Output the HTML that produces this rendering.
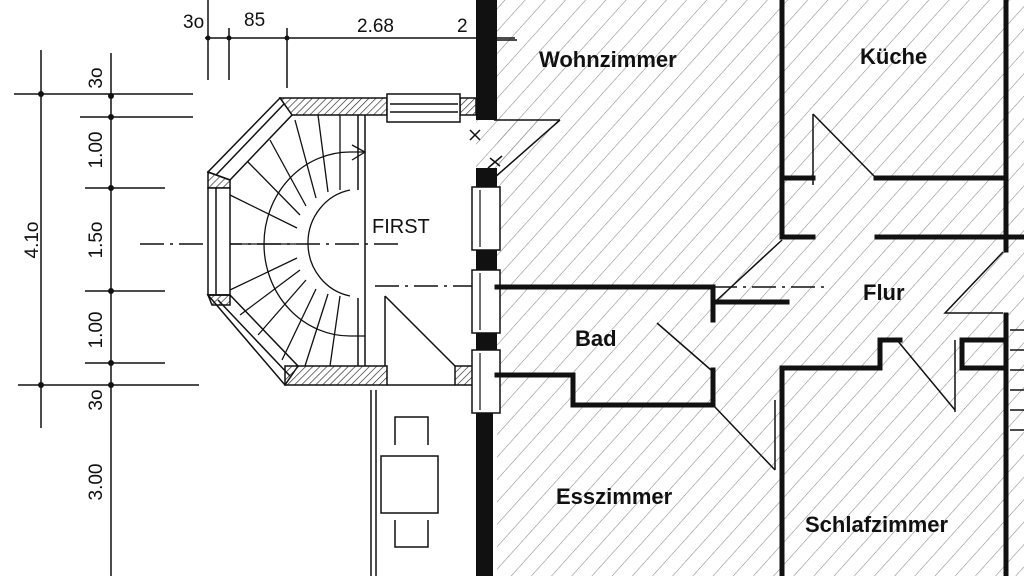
<!DOCTYPE html>
<html><head><meta charset="utf-8"><style>
html,body{margin:0;padding:0;background:#fff;}
svg{display:block;}
.t{font-family:"Liberation Sans",sans-serif;font-weight:bold;font-size:22px;fill:#111;}
.d{font-family:"Liberation Sans",sans-serif;font-size:19px;fill:#111;}
</style></head><body>
<svg width="1024" height="576" viewBox="0 0 1024 576" xmlns="http://www.w3.org/2000/svg">
<defs>
<pattern id="h" width="15" height="15" patternUnits="userSpaceOnUse" patternTransform="rotate(42)">
<line x1="0" y1="0" x2="0" y2="15" stroke="#888" stroke-width="1.1"/></pattern>
<pattern id="w" width="5" height="5" patternUnits="userSpaceOnUse" patternTransform="rotate(45)">
<line x1="0" y1="0" x2="0" y2="5" stroke="#222" stroke-width="1.3"/></pattern>
</defs>
<rect width="1024" height="576" fill="#fff"/>
<rect x="497" y="0" width="527" height="576" fill="url(#h)"/>
<polygon points="476,120 560,120 494,178 476,178" fill="url(#h)"/>

<g stroke="#111" fill="none" stroke-width="1.5">
<line x1="205" y1="38" x2="515" y2="38"/>
<line x1="208" y1="0" x2="208" y2="80"/>
<line x1="229" y1="28" x2="229" y2="80"/>
<line x1="287" y1="28" x2="287" y2="88"/>
<line x1="41" y1="50" x2="41" y2="428"/>
<line x1="14" y1="94" x2="193" y2="94"/>
<line x1="18" y1="385" x2="199" y2="385"/>
<line x1="111" y1="53" x2="111" y2="576"/>
<line x1="80" y1="117" x2="193" y2="117"/>
<line x1="85" y1="188" x2="165" y2="188"/>
<line x1="85" y1="291" x2="165" y2="291"/>
<line x1="85" y1="363" x2="165" y2="363"/>
<line x1="140" y1="244" x2="400" y2="244" stroke-dasharray="24,6,3,6"/>
<line x1="375" y1="286" x2="473" y2="286" stroke-dasharray="24,6,3,6"/>
<line x1="713" y1="287" x2="830" y2="287" stroke-dasharray="24,6,3,6"/>
</g>
<g fill="#111">
<circle cx="208" cy="38" r="2.5"/><circle cx="229" cy="38" r="2.5"/><circle cx="287" cy="38" r="2.5"/>
<circle cx="41" cy="94" r="3"/><circle cx="41" cy="385" r="3"/>
<circle cx="111" cy="96" r="3"/><circle cx="111" cy="117" r="3"/><circle cx="111" cy="188" r="3"/>
<circle cx="111" cy="291" r="3"/><circle cx="111" cy="363" r="3"/><circle cx="111" cy="385" r="3"/>
</g>
<text class="d" x="183" y="28">3o</text>
<text class="d" x="244" y="26">85</text>
<text class="d" x="357" y="32">2.68</text>
<text class="d" x="457" y="32">2</text>
<text class="d" transform="translate(38,240) rotate(-90)" text-anchor="middle">4.1o</text>
<g class="d" text-anchor="middle">
<text transform="translate(102,78) rotate(-90)">3o</text>
<text transform="translate(102,150) rotate(-90)">1.00</text>
<text transform="translate(102,240) rotate(-90)">1.5o</text>
<text transform="translate(102,330) rotate(-90)">1.00</text>
<text transform="translate(102,400) rotate(-90)">3o</text>
<text transform="translate(102,482) rotate(-90)">3.00</text>
</g>

<g stroke="#111" stroke-width="1.5">
<polygon points="280,98 387,98 387,115 292,115" fill="url(#w)"/>
<polygon points="460,98 476,98 476,115 460,115" fill="url(#w)"/>
<polygon points="280,98 292,115 230,180 208,172" fill="#fff"/>
<line x1="284" y1="104" x2="216" y2="175"/>
<polygon points="208,172 230,180 230,188 208,188" fill="url(#w)"/>
<rect x="208" y="188" width="22" height="107" fill="#fff"/>
<line x1="216" y1="188" x2="216" y2="295"/>
<polygon points="208,295 230,295 230,305 212,305" fill="url(#w)"/>
<polygon points="208,295 230,295 298,366 285,385" fill="none"/>
<line x1="218" y1="300" x2="290" y2="376"/>
<polygon points="285,366 387,366 387,385 285,385" fill="url(#w)"/>
<rect x="387" y="94" width="73" height="28" fill="#fff"/>
<line x1="390" y1="104" x2="458" y2="104"/><line x1="390" y1="112" x2="458" y2="112"/>
<polygon points="455,366 476,366 476,385 455,385" fill="url(#w)"/>
<line x1="387" y1="385" x2="455" y2="385"/>
<line x1="365" y1="115" x2="365" y2="366"/>
<line x1="358" y1="115" x2="358" y2="190"/>
<line x1="358" y1="298" x2="358" y2="366"/>
</g>
<g stroke="#111" stroke-width="1.3" fill="none">
<path d="M350,190 A52,54 0 0 0 350,296"/>
<path d="M365,152 L350,152 A86,92 0 0 0 350,336 L365,336"/>
<path d="M352,145 L365,152 L352,160"/>
<line x1="340" y1="190" x2="340" y2="115"/><line x1="328" y1="192" x2="318" y2="115"/>
<line x1="316" y1="198" x2="295" y2="120"/><line x1="306" y1="206" x2="270" y2="140"/>
<line x1="300" y1="215" x2="248" y2="162"/><line x1="297" y1="228" x2="230" y2="195"/>
<line x1="296" y1="244" x2="230" y2="244"/><line x1="297" y1="258" x2="230" y2="290"/>
<line x1="300" y1="270" x2="240" y2="315"/><line x1="306" y1="280" x2="258" y2="335"/>
<line x1="316" y1="289" x2="282" y2="360"/><line x1="328" y1="294" x2="305" y2="366"/>
<line x1="340" y1="296" x2="330" y2="366"/>
</g>
<text class="d" x="372" y="233" style="font-size:20px">FIRST</text>
<g stroke="#111" stroke-width="1.5" fill="none">
<line x1="385" y1="296" x2="385" y2="366"/><line x1="385" y1="296" x2="455" y2="366"/>
<line x1="371" y1="390" x2="371" y2="576"/><line x1="376" y1="390" x2="376" y2="576"/>
<rect x="381" y="456" width="57" height="57"/>
<path d="M395,445 V417 H428 V445"/>
<path d="M395,520 V547 H428 V520"/>
<line x1="470" y1="130" x2="480" y2="140"/><line x1="480" y1="130" x2="470" y2="140"/>
<line x1="488" y1="168" x2="502" y2="156"/><line x1="490" y1="158" x2="500" y2="166"/>
<line x1="494" y1="120" x2="560" y2="120"/><line x1="560" y1="120" x2="494" y2="178"/>
<line x1="494" y1="40" x2="517" y2="40"/>
</g>
<g fill="#111">
<rect x="476" y="0" width="21" height="120"/>
<rect x="476" y="168" width="21" height="19"/>
<rect x="476" y="250" width="21" height="20"/>
<rect x="476" y="333" width="21" height="17"/>
<rect x="476" y="413" width="17" height="163"/>
</g>
<g stroke="#111" stroke-width="1.5" fill="#fff">
<rect x="472" y="187" width="28" height="63"/>
<rect x="472" y="270" width="28" height="63"/>
<rect x="472" y="350" width="28" height="63"/>
</g>
<g stroke="#111" stroke-width="1.2"><line x1="480" y1="190" x2="480" y2="247"/><line x1="480" y1="273" x2="480" y2="330"/><line x1="480" y1="353" x2="480" y2="410"/></g>
<g stroke="#111" stroke-width="5" fill="none" stroke-linecap="square">
<line x1="782" y1="0" x2="782" y2="237"/>
<line x1="782" y1="178" x2="813" y2="178"/><line x1="876" y1="178" x2="1003" y2="178"/>
<line x1="782" y1="237" x2="813" y2="237"/><line x1="877" y1="237" x2="1024" y2="237"/>
<line x1="1006" y1="0" x2="1006" y2="250"/>
<polyline points="497,287 713,287 713,320"/>
<line x1="713" y1="302" x2="787" y2="302"/>
<polyline points="497,375 573,375 573,405 713,405 713,370"/>
<polyline points="782,576 782,368 880,368 880,340 900,340"/>
<line x1="1006" y1="315" x2="1006" y2="576"/>
<polyline points="1003,340 962,340 962,368 1003,368"/>
</g>
<g stroke="#111" stroke-width="1.5" fill="none">
<line x1="813" y1="114" x2="813" y2="185"/><line x1="813" y1="114" x2="874" y2="176"/>
<line x1="782" y1="240" x2="716" y2="301"/>
<line x1="657" y1="323" x2="711" y2="370"/>
<line x1="713" y1="405" x2="775" y2="470"/><line x1="775" y1="400" x2="775" y2="470"/>
<line x1="897" y1="340" x2="955" y2="410"/><line x1="955" y1="340" x2="955" y2="412"/>
<polyline points="1003,252 945,313 1003,313"/>
<line x1="1010" y1="330" x2="1024" y2="330"/><line x1="1010" y1="350" x2="1024" y2="350"/>
<line x1="1010" y1="370" x2="1024" y2="370"/><line x1="1010" y1="390" x2="1024" y2="390"/>
<line x1="1010" y1="410" x2="1024" y2="410"/><line x1="1010" y1="430" x2="1024" y2="430"/>
</g>
<text class="t" x="539" y="67">Wohnzimmer</text>
<text class="t" x="860" y="64">Küche</text>
<text class="t" x="863" y="300">Flur</text>
<text class="t" x="575" y="346">Bad</text>
<text class="t" x="556" y="504">Esszimmer</text>
<text class="t" x="805" y="532">Schlafzimmer</text>
</svg>
</body></html>
